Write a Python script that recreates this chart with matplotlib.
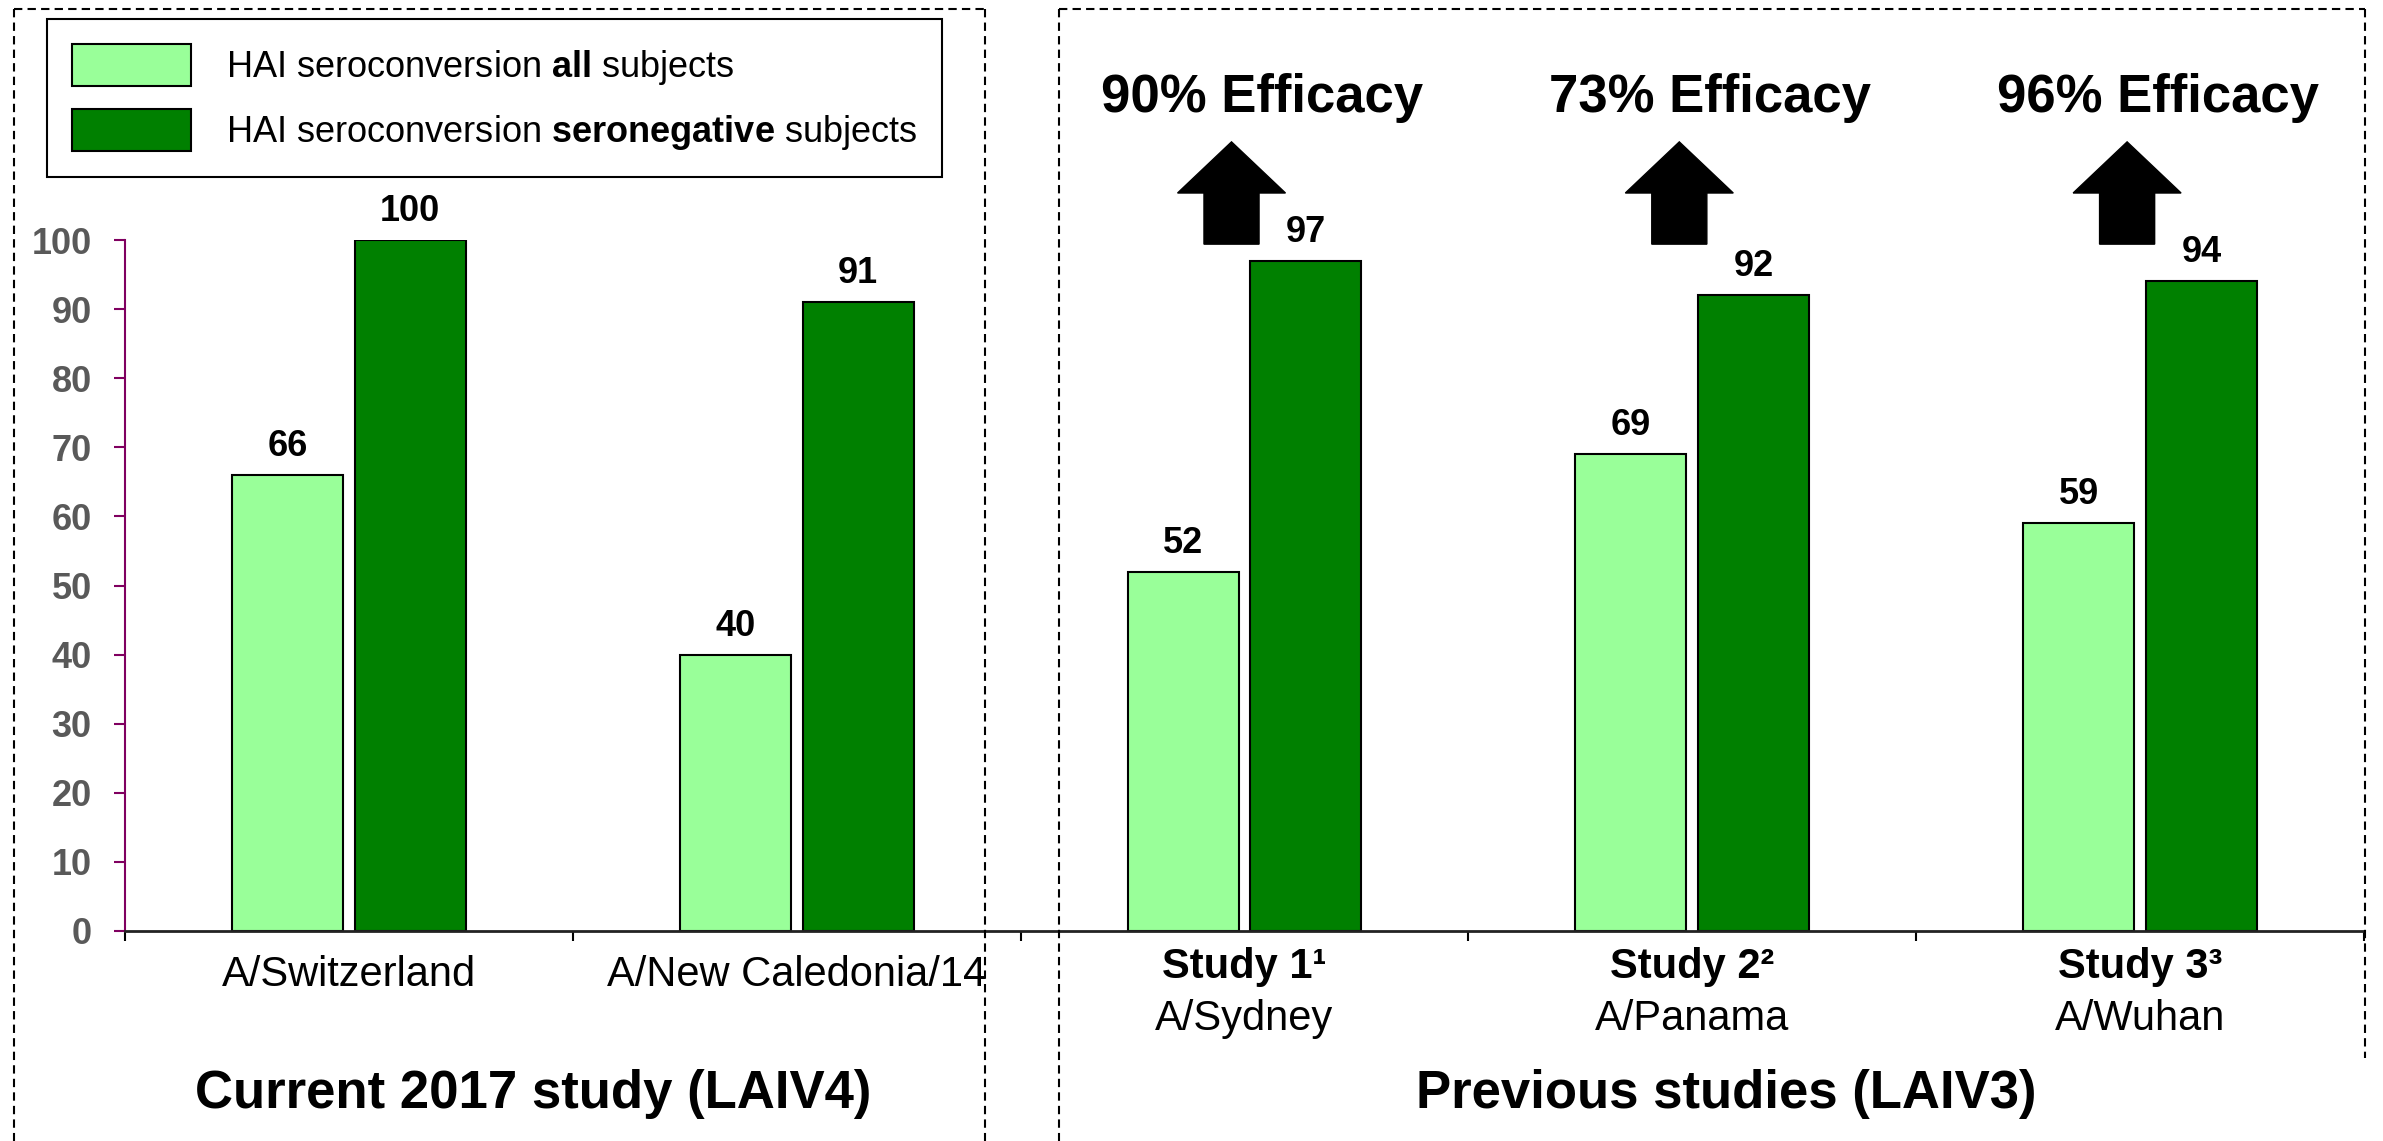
import numpy as np
import matplotlib
matplotlib.use("Agg")
import matplotlib.pyplot as plt
from matplotlib.lines import Line2D
from matplotlib.patches import FancyArrow

plt.rcParams['font.family'] = ['Liberation Sans', 'DejaVu Sans']
plt.rcParams['mathtext.fontset'] = 'custom'
plt.rcParams['mathtext.rm'] = 'Liberation Sans'
plt.rcParams['mathtext.bf'] = 'Liberation Sans:bold'

# HAI seroconversion (%) per strain
strains = ["A/Switzerland", "A/New Caledonia/14", "A/Sydney", "A/Panama", "A/Wuhan"]
studies = ["", "", "Study 1\u00b9", "Study 2\u00b2", "Study 3\u00b3"]
all_subjects = [66, 40, 52, 69, 59]
seroneg_subjects = [100, 91, 97, 92, 94]

# efficacy reported for the previous studies
eff_idx = [2, 3, 4]
eff_pct = [90, 73, 96]

LIGHT = '#99ff99'
DARK = '#008000'
AXIS_PURPLE = '#800060'

W, H = 2383, 1141
fig = plt.figure(figsize=(W / 100, H / 100), dpi=100)
ax = fig.add_axes([125 / W, 1 - 931 / H, (2364 - 125) / W, (931 - 240) / H])

x = np.arange(len(strains))
bw = 0.248
off = 0.137
b1 = ax.bar(x - off, all_subjects, bw, color=LIGHT, edgecolor='black', linewidth=1.5,
            label=r'HAI seroconversion $\bf{all}$ subjects')
b2 = ax.bar(x + off, seroneg_subjects, bw, color=DARK, edgecolor='black', linewidth=1.5,
            label=r'HAI seroconversion $\bf{seronegative}$ subjects')

for bars, vals in ((b1, all_subjects), (b2, seroneg_subjects)):
    for rect, v in zip(bars, vals):
        ax.annotate(f'{v}', (rect.get_x() + rect.get_width() / 2, v),
                    xytext=(0, 13.7), textcoords='offset points',
                    ha='center', va='baseline', fontsize=26, fontweight='bold')

ax.set_xlim(-0.5, len(strains) - 0.5)
ax.set_ylim(0, 100)
ax.spines['top'].set_visible(False)
ax.spines['right'].set_visible(False)
ax.spines['left'].set_color(AXIS_PURPLE)
ax.spines['left'].set_linewidth(1.5)
ax.spines['bottom'].set_color('#222222')
ax.spines['bottom'].set_linewidth(2)

ax.set_yticks(range(0, 101, 10))
ax.tick_params(axis='y', labelsize=26, labelcolor='#595959', color=AXIS_PURPLE,
               length=8, width=1.5, pad=16)
for lab in ax.get_yticklabels():
    lab.set_fontweight('bold')

ax.set_xticks(np.arange(-0.5, len(strains), 1.0))
ax.set_xticklabels([])
ax.tick_params(axis='x', length=7, width=1.5, color='black')

# category labels under the axis
for i, (st, name) in enumerate(zip(studies, strains)):
    if st:
        ax.annotate(st, (i, 0), xytext=(0, -33.8), textcoords='offset points',
                    ha='center', va='baseline', fontsize=30, fontweight='bold')
        ax.annotate(name, (i, 0), xytext=(0, -71.3), textcoords='offset points',
                    ha='center', va='baseline', fontsize=30)
    else:
        ax.annotate(name, (i, 0), xytext=(0, -39.6), textcoords='offset points',
                    ha='center', va='baseline', fontsize=30)

# efficacy arrows above the previous studies
for i, pct in zip(eff_idx, eff_pct):
    ax.add_patch(FancyArrow(i - 0.029, 99.4, 0, 14.8, width=0.123, head_width=0.241,
                            head_length=7.4, length_includes_head=True,
                            color='black', clip_on=False))
    ax.text(i + 0.04, 118.5, f'{pct}% Efficacy', ha='center', va='baseline',
            fontsize=38, fontweight='bold')

# group titles
fig.text(533 / W, 1 - 1108 / H, 'Current 2017 study (LAIV4)', ha='center',
         va='baseline', fontsize=38, fontweight='bold')
fig.text(1726 / W, 1 - 1108 / H, 'Previous studies (LAIV3)', ha='center',
         va='baseline', fontsize=38, fontweight='bold')

# dashed group frames
dash = dict(color='black', linewidth=1.5, linestyle=(0, (4, 2.5)), transform=fig.transFigure)
def seg(x0, y0, x1, y1):
    fig.add_artist(Line2D([x0 / W, x1 / W], [1 - y0 / H, 1 - y1 / H], **dash))

seg(14, 9, 14, H)
seg(14, 9, 985, 9)
seg(985, 9, 985, H)
seg(1059, 9, 1059, H)
seg(1059, 9, 2365, 9)
seg(2365, 9, 2365, 1058)

leg = fig.legend(handles=[b1, b2], loc='upper left', bbox_to_anchor=(47 / W, 1 - 19 / H),
                 bbox_transform=fig.transFigure, borderaxespad=0, fontsize=26,
                 frameon=True, fancybox=False, edgecolor='black', framealpha=1,
                 handlelength=3.3, handleheight=1.4, handletextpad=0.95,
                 labelspacing=0.6, borderpad=0.7)
leg.get_frame().set_linewidth(1.5)

fig.savefig('out.png', dpi=100)
